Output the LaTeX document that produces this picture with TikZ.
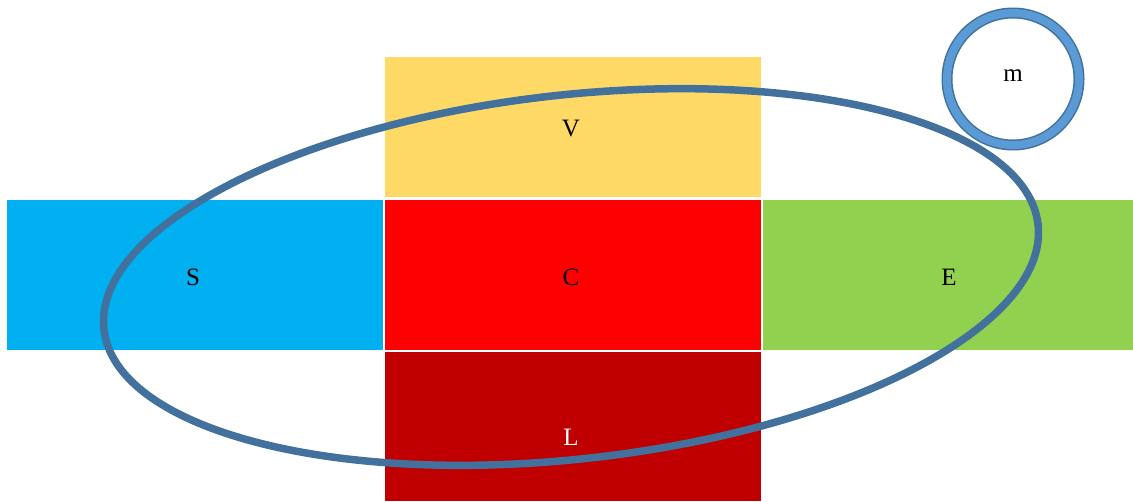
\documentclass[tikz,border=0pt]{standalone}
\usepackage{fontspec}
\setmainfont{Liberation Serif}
\definecolor{cV}{HTML}{FFD966}
\definecolor{cS}{HTML}{00B0F0}
\definecolor{cC}{HTML}{FF0000}
\definecolor{cE}{HTML}{92D050}
\definecolor{cL}{HTML}{C00000}
\definecolor{ring}{HTML}{41719C}
\definecolor{ringfill}{HTML}{5B9BD5}
\begin{document}
\begin{tikzpicture}[x=1pt,y=-1pt,
  box/.style={draw=none,inner sep=0pt,outer sep=0pt,anchor=north west},
  lbl/.style={font=\fontsize{25}{30}\selectfont}]
\useasboundingbox (0,0) rectangle (1133,501);
\node[box,fill=cV,minimum width=376pt,minimum height=140pt] (V) at (385,57) {};
\node[box,fill=cS,minimum width=376pt,minimum height=150pt] (S) at (7,200) {};
\node[box,fill=cC,minimum width=376pt,minimum height=150pt] (C) at (385,200) {};
\node[box,fill=cE,minimum width=370pt,minimum height=150pt] (E) at (763,200) {};
\node[box,fill=cL,minimum width=376pt,minimum height=149pt] (L) at (385,352) {};
\node[lbl] (tV) at (571,129) {V};
\node[lbl] (tS) at (193,277) {S};
\node[lbl] (tC) at (571,277) {C};
\node[lbl] (tE) at (949,277) {E};
\node[lbl,text=white] (tL) at (571,437) {L};
\draw[ring,line width=7.5pt,rotate around={6.4:(571,277)}] (571,277) ellipse [x radius=470pt, y radius=182pt];
\draw[ring,line width=11pt] (1013,79) circle [radius=66pt];
\draw[ringfill,line width=8pt] (1013,79) circle [radius=66pt];
\node[lbl] (m) at (1013,76) {m};
\end{tikzpicture}
\end{document}
